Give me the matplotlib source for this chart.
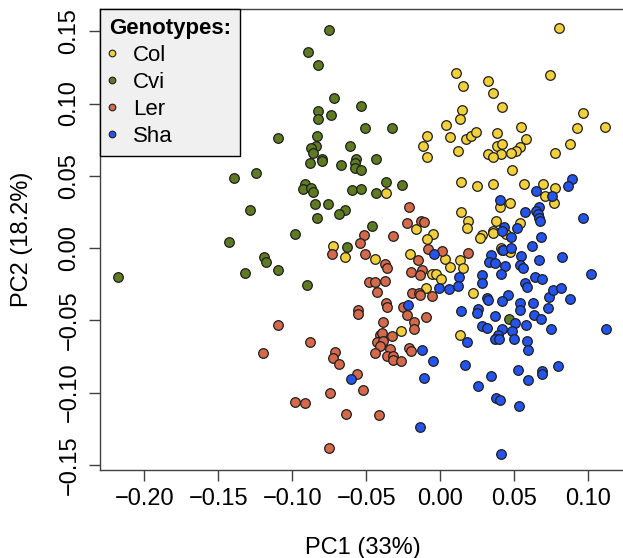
import matplotlib.pyplot as plt
from matplotlib.lines import Line2D

plt.rcParams['font.family'] = ['Liberation Sans', 'DejaVu Sans']

# --- PCA scores per genotype ---
col_pc1 = [0.0039, -0.0088, 0.0068, -0.0115, -0.0088, 0.0802, 0.0104, 0.0151, 0.0320, 0.0743,
           0.0354, 0.0417, 0.0145, 0.0133, 0.0172, 0.0205, 0.0241, 0.0383, 0.0545, 0.0579,
           0.0385, 0.0417, 0.0541, 0.0509, 0.0476, 0.0410, 0.0322, 0.0358, 0.0120, 0.0962,
           0.0922, 0.1111, 0.0878, 0.0775, -0.0365, -0.0166, -0.0051, -0.0092, -0.0725, -0.0642,
           -0.0439, -0.0205, 0.0030, -0.0056, -0.0031, 0.0003, -0.0097, 0.0484, 0.0138, 0.0246,
           0.0354, 0.0564, 0.0692, 0.0773, 0.0709, 0.0768, 0.0403, 0.0469, 0.0140, 0.0187,
           0.0180, 0.0378, 0.0539, 0.0282, 0.0268, 0.0358, 0.0358, 0.0444, 0.0410, 0.0473,
           0.0415, 0.0133, 0.0064, 0.0151, 0.0219, -0.0268, 0.0135]
col_pc2 = [0.0849, 0.0773, 0.0770, 0.0706, 0.0632, 0.1522, 0.1211, 0.1119, 0.1158, 0.1199,
           0.1071, 0.0976, 0.0953, 0.0891, 0.0752, 0.0773, 0.0803, 0.0796, 0.0835, 0.0756,
           0.0704, 0.0722, 0.0701, 0.0673, 0.0655, 0.0648, 0.0648, 0.0628, 0.0671, 0.0932,
           0.0833, 0.0837, 0.0718, 0.0657, 0.0379, 0.0131, 0.0099, 0.0060, 0.0016, -0.0062,
           -0.0078, -0.0039, -0.0076, -0.0182, -0.0182, -0.0212, -0.0279, 0.0538, 0.0459, 0.0427,
           0.0445, 0.0441, 0.0445, 0.0417, 0.0362, 0.0309, 0.0286, 0.0313, 0.0249, 0.0185,
           0.0136, 0.0185, 0.0175, 0.0092, 0.0067, 0.0118, 0.0102, 0.0099, -0.0002, -0.0026,
           -0.0016, -0.0085, -0.0134, -0.0140, -0.0313, -0.0576, -0.0602]

cvi_pc1 = [-0.1095, -0.0750, -0.0892, -0.0828, -0.0720, -0.0538, -0.0826, -0.0826, -0.0736, -0.0507,
           -0.0324, -0.0831, -0.0842, -0.0872, -0.0858, -0.0608, -0.0799, -0.0572, -0.0436, -0.0880,
           -0.0797, -0.0671, -0.0578, -0.0574, -0.0538, -0.0912, -0.0930, -0.0876, -0.0858, -0.0367,
           -0.0261, -0.0595, -0.0538, -0.0436, -0.0847, -0.0759, -0.0644, -0.0686, -0.0835, -0.0464,
           -0.0980, -0.0630, -0.1099, -0.0899, -0.1394, -0.1247, -0.1284, -0.1426, -0.1191, -0.1178,
           -0.1322, -0.2180, 0.0462]
cvi_pc2 = [0.0763, 0.1509, 0.1354, 0.1264, 0.1040, 0.0983, 0.0950, 0.0891, 0.0918, 0.0833,
           0.0830, 0.0777, 0.0708, 0.0692, 0.0657, 0.0708, 0.0618, 0.0618, 0.0614, 0.0586,
           0.0602, 0.0572, 0.0586, 0.0552, 0.0540, 0.0441, 0.0406, 0.0415, 0.0390, 0.0459,
           0.0434, 0.0401, 0.0410, 0.0379, 0.0302, 0.0304, 0.0265, 0.0235, 0.0206, 0.0152,
           0.0095, 0.0005, -0.0152, -0.0256, 0.0484, 0.0521, 0.0263, 0.0042, -0.0060, -0.0095,
           -0.0171, -0.0199, -0.0491]

ler_pc1 = [-0.0209, -0.0227, -0.0128, -0.0108, -0.0320, -0.0514, -0.0545, -0.0732, -0.0511, -0.0085,
           0.0011, -0.0153, -0.0374, -0.0358, -0.0124, -0.0200, -0.0139, -0.0484, -0.0443, -0.0372,
           -0.0426, -0.0189, -0.0144, -0.0137, -0.0054, -0.0369, -0.0362, -0.0558, -0.0556, -0.0250,
           -0.0227, -0.0099, -0.0180, -0.0178, -0.1095, -0.0389, -0.0324, -0.0407, -0.0394, -0.0412,
           -0.0426, -0.0389, -0.0407, -0.0880, -0.0709, -0.0723, -0.0682, -0.0441, -0.0338, -0.0362,
           -0.0320, -0.0322, -0.0266, -0.0214, -0.0196, -0.0563, -0.0520, -0.0745, -0.0984, -0.0916,
           -0.0637, -0.0414, -0.0752, -0.1196, 0.0189]
ler_pc2 = [0.0282, 0.0175, 0.0185, 0.0178, 0.0085, 0.0092, 0.0033, -0.0044, -0.0042, -0.0005,
           -0.0019, -0.0083, -0.0109, -0.0140, -0.0154, -0.0164, -0.0189, -0.0237, -0.0233, -0.0230,
           -0.0304, -0.0311, -0.0309, -0.0327, -0.0330, -0.0379, -0.0410, -0.0429, -0.0457, -0.0406,
           -0.0466, -0.0475, -0.0510, -0.0563, -0.0535, -0.0512, -0.0609, -0.0604, -0.0590, -0.0651,
           -0.0648, -0.0646, -0.0678, -0.0653, -0.0722, -0.0759, -0.0805, -0.0727, -0.0699, -0.0747,
           -0.0745, -0.0777, -0.0784, -0.0694, -0.0711, -0.0872, -0.0985, -0.1003, -0.1066, -0.1075,
           -0.1149, -0.1154, -0.1382, -0.0729, -0.0035]

sha_pc1 = [-0.0045, -0.0009, 0.0059, -0.0220, -0.0122, -0.0051, -0.0605, -0.0112, -0.0135, 0.0138,
           0.0253, 0.0248, 0.0539, 0.0536, 0.0726, 0.0370, 0.0635, 0.0680, 0.0503, 0.0579,
           0.0280, 0.0314, 0.0415, 0.0482, 0.0750, 0.1118, 0.0392, 0.0368, 0.0397, 0.0498,
           0.0180, 0.0588, 0.0593, 0.0167, 0.0527, 0.0685, 0.0687, 0.0797, 0.0345, 0.0595,
           0.0257, 0.0376, 0.0403, 0.0532, 0.0410, 0.0892, 0.0861, 0.0645, 0.0753, 0.0401,
           0.0570, 0.0667, 0.0647, 0.0660, 0.0669, 0.0674, 0.0964, 0.0432, 0.0516, 0.0417,
           0.0476, 0.0680, 0.0622, 0.0424, 0.0476, 0.0341, 0.0329, 0.0372, 0.0543, 0.0541,
           0.0561, 0.0669, 0.0820, 0.0437, 0.1016, 0.0282, 0.0284, 0.0412, 0.0638, 0.0687,
           0.0126, 0.0120, 0.0572, 0.0588, 0.0455, 0.0417, 0.0318, 0.0324, 0.0624, 0.0732,
           0.0759, 0.0818, 0.0876]
sha_pc2 = [-0.0042, -0.0277, -0.0286, -0.0392, -0.0704, -0.0780, -0.0907, -0.0898, -0.1239, -0.0436,
           -0.0424, -0.0452, -0.0383, -0.0429, -0.0417, -0.0471, -0.0466, -0.0491, -0.0517, -0.0531,
           -0.0540, -0.0556, -0.0558, -0.0572, -0.0563, -0.0561, -0.0602, -0.0628, -0.0628, -0.0630,
           -0.0648, -0.0642, -0.0708, -0.0812, -0.0844, -0.0851, -0.0870, -0.0815, -0.0884, -0.0911,
           -0.0955, -0.1036, -0.1050, -0.1096, -0.1428, 0.0478, 0.0431, 0.0392, 0.0358, 0.0332,
           0.0247, 0.0284, 0.0254, 0.0233, 0.0206, 0.0187, 0.0210, 0.0145, 0.0136, 0.0116,
           0.0074, 0.0074, 0.0012, -0.0016, 0.0002, -0.0046, -0.0097, -0.0106, -0.0055, -0.0118,
           -0.0140, -0.0081, -0.0060, -0.0122, -0.0182, -0.0189, -0.0244, -0.0182, -0.0201, -0.0217,
           -0.0201, -0.0263, -0.0244, -0.0270, -0.0327, -0.0365, -0.0344, -0.0360, -0.0379, -0.0337,
           -0.0293, -0.0275, -0.0355]

genotypes = ["Col", "Cvi", "Ler", "Sha"]
colors = ["#F2D03B", "#5E7B22", "#D5694B", "#2553EE"]

xticks = [-0.20, -0.15, -0.10, -0.05, 0.00, 0.05, 0.10]
xtick_labels = ["\u22120.20", "\u22120.15", "\u22120.10", "\u22120.05", "0.00", "0.05", "0.10"]
yticks = [-0.15, -0.10, -0.05, 0.00, 0.05, 0.10, 0.15]
ytick_labels = ["\u22120.15", "\u22120.10", "\u22120.05", "0.00", "0.05", "0.10", "0.15"]

series = [(col_pc1, col_pc2), (cvi_pc1, cvi_pc2), (ler_pc1, ler_pc2), (sha_pc1, sha_pc2)]

fig = plt.figure(figsize=(6.23, 5.58), dpi=100)
ax = fig.add_axes([100 / 623, 88 / 558, 525 / 623, 460.7 / 558])

for (x, y), c in zip(series, colors):
    ax.scatter(x, y, s=48, c=c, edgecolors="#1e1e1e", linewidths=0.9, zorder=3)

ax.set_xlim(-0.2299, 0.1248)
ax.set_ylim(-0.1536, 0.1652)

ax.set_xticks(xticks)
ax.set_xticklabels(xtick_labels)
ax.set_yticks(yticks)
ax.set_yticklabels(ytick_labels, rotation=90, va="center")

ax.tick_params(axis="both", length=8, width=1, color="#404040", labelsize=17)
ax.tick_params(axis="x", pad=5)
ax.tick_params(axis="y", pad=6)
for s in ax.spines.values():
    s.set_color("#404040")
    s.set_linewidth(1)

ax.set_xlabel("PC1 (33%)", fontsize=17, va="center")
ax.set_ylabel("PC2 (18.2%)", fontsize=17, va="center")
ax.xaxis.set_label_coords(0.5, -0.1693)
ax.yaxis.set_label_coords(-0.1486, 0.5)

handles = [Line2D([], [], marker="o", linestyle="", markersize=4.8, markerfacecolor=c,
                  markeredgecolor="#1e1e1e", markeredgewidth=0.8) for c in colors]
leg = ax.legend(handles, genotypes, title="Genotypes:", loc="upper left", bbox_to_anchor=(0, 1),
                borderaxespad=0, fancybox=False, framealpha=1, facecolor="#f0f0f0",
                edgecolor="black", fontsize=16, title_fontproperties={"weight": "bold", "size": 16},
                alignment="left", borderpad=0.4, labelspacing=0.27, handlelength=0.3,
                handletextpad=0.77)
leg.get_frame().set_linewidth(1.0)

fig.savefig("out.png", dpi=100)
